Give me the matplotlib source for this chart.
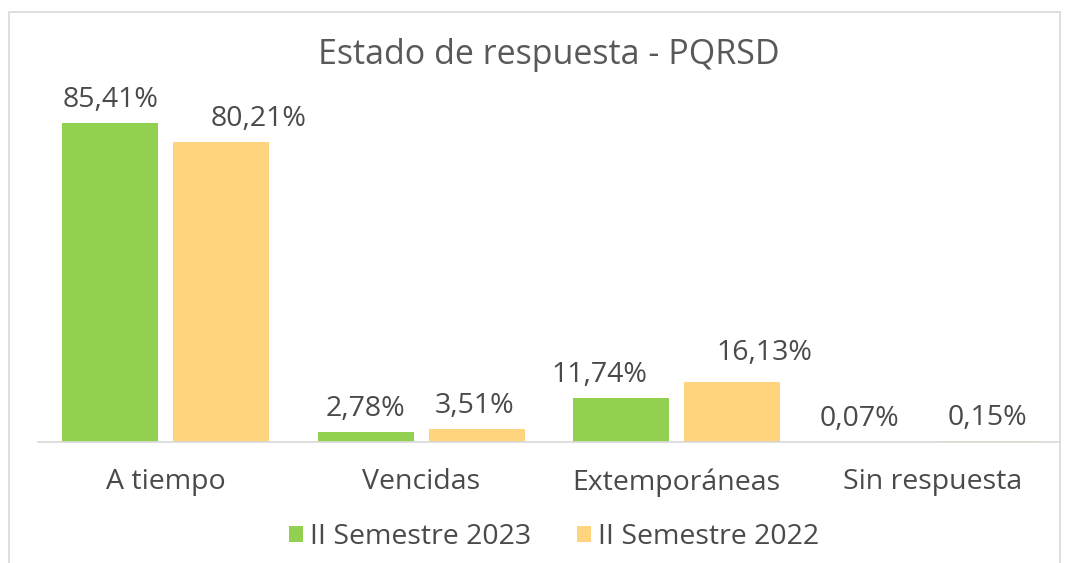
import numpy as np
import matplotlib.pyplot as plt
from matplotlib.patches import Rectangle

categories = ['A tiempo', 'Vencidas', 'Extemporáneas', 'Sin respuesta']
sem_2023 = [85.41, 2.78, 11.74, 0.07]
sem_2022 = [80.21, 3.51, 16.13, 0.15]
series_names = ['II Semestre 2023', 'II Semestre 2022']

# hand-nudged data labels in the original (pixels)
nudge_2023 = [(0, 0), (0, 0), (-22, 0), (-17, 0)]
nudge_2022 = [(37, 0), (-2, 0), (32, 6), (0, 0)]

plt.rcParams['font.family'] = ['Open Sans', 'DejaVu Sans']
txt = '#4a4a4a'
title_c = '#595959'
green = '#92D050'
yellow = '#FFD47C'

fig = plt.figure(figsize=(10.75, 5.63), dpi=100)
fig.patches.append(Rectangle((9 / 1075, -0.05), (1060 - 9) / 1075, 1 - 12 / 563 + 0.05,
                             transform=fig.transFigure, fill=False,
                             edgecolor='#D9D9D9', linewidth=1.2))
ax = fig.add_axes([38 / 1075, 1 - 442 / 563, (1060 - 38) / 1075, (442 - 68.5) / 563])

x = np.arange(len(categories))
w = 0.376
off = 0.217
b1 = ax.bar(x - off, sem_2023, w, color=green, label=series_names[0])
b2 = ax.bar(x + off, sem_2022, w, color=yellow, label=series_names[1])

px = 72 / 100
for bars, vals, nudge in ((b1, sem_2023, nudge_2023), (b2, sem_2022, nudge_2022)):
    for r, v, (dx, dy) in zip(bars, vals, nudge):
        ax.annotate(f'{v:.2f}%'.replace('.', ','),
                    (r.get_x() + r.get_width() / 2, r.get_height()),
                    xytext=(dx * px, 6.5 + dy * px), textcoords='offset points',
                    ha='center', va='bottom', fontsize=20.5, color=txt)

ax.set_xlim(-0.5, 3.5)
ax.set_ylim(0, 100)
ax.set_xticks(x)
ax.set_xticklabels(categories, fontsize=20.5, color=txt)
ax.tick_params(axis='x', length=0, pad=19)
ax.set_yticks([])
for s in ['top', 'right', 'left']:
    ax.spines[s].set_visible(False)
ax.spines['bottom'].set_color('#D9D9D9')
ax.spines['bottom'].set_linewidth(1.2)

fig.text(549 / 1075, 1 - 55 / 563, 'Estado de respuesta - PQRSD',
         ha='center', va='center', fontsize=24.5, color=title_c)

leg = fig.legend(loc='center', bbox_to_anchor=(554 / 1075, 1 - 537 / 563), ncol=2,
                 frameon=False, fontsize=20.5, handlelength=0.5, handleheight=0.5,
                 handletextpad=0.25, columnspacing=1.6, labelcolor=txt)

fig.savefig('out.png', dpi=100)
